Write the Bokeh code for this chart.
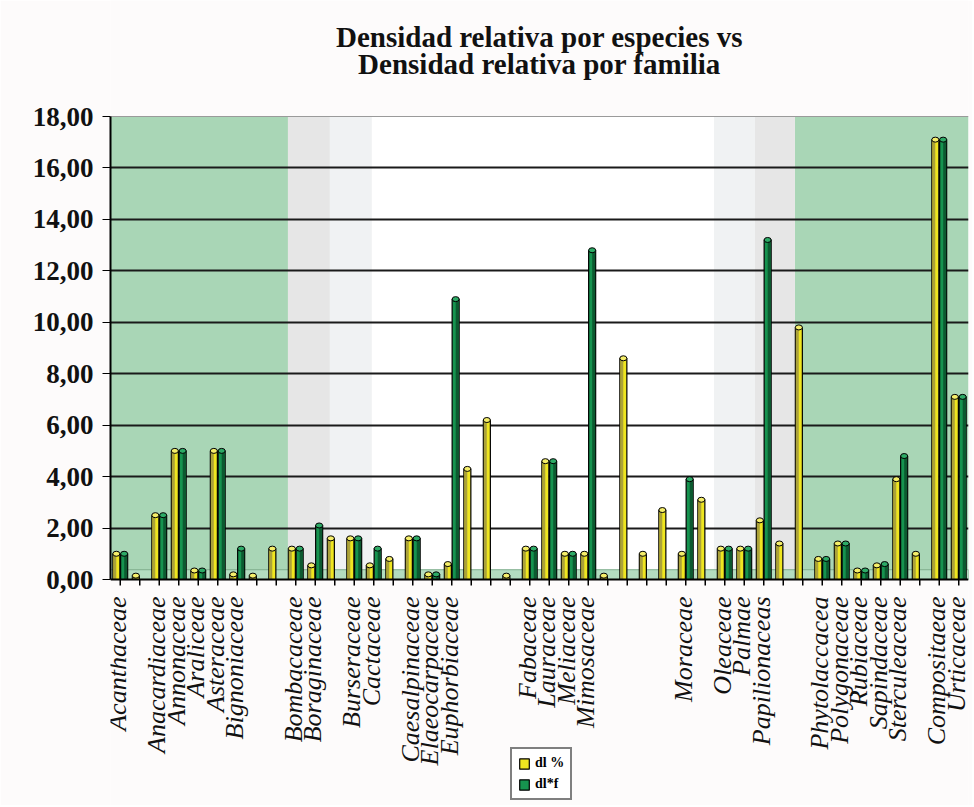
import math
from bokeh.plotting import figure
from bokeh.models import (ColumnDataSource, FixedTicker, Range1d, Legend, LegendItem)
from bokeh.core.properties import value
from bokeh.embed import file_html
from bokeh.resources import INLINE

# ---------------- data ----------------
labels = ["Acanthaceae", "", "Anacardiaceae", "Annonaceae", "Araliceae", "Asteraceae",
          "Bignoniaceae", "", "", "Bombacaceae", "Boraginaceae", "", "Burseraceae",
          "Cactaceae", "", "Caesalpinaceae", "Elaeocarpaceae", "Euphorbiaceae", "", "", "",
          "Fabaceae", "Lauraceae", "Meliaceae", "Mimosaceae", "", "", "", "", "Moraceae", "",
          "Oleaceae", "Palmae", "Papilionaceas", "", "", "Phytolaccacea", "Polygonaceae",
          "Rubiaceae", "Sapindaceae", "Sterculeaceae", "", "Compositaeae", "Urticaceae"]

dl_pct = [1.0, 0.15, 2.5, 5.0, 0.35, 5.0, 0.2, 0.15, 1.2, 1.2, 0.55, 1.6, 1.6, 0.55, 0.8,
          1.6, 0.2, 0.6, 4.3, 6.2, 0.15, 1.2, 4.6, 1.0, 1.0, 0.15, 8.6, 1.0, 2.7, 1.0, 3.1,
          1.2, 1.2, 2.3, 1.4, 9.8, 0.8, 1.4, 0.35, 0.55, 3.9, 1.0, 17.1, 7.1]

dl_f = [1.0, None, 2.5, 5.0, 0.35, 5.0, 1.2, None, None, 1.2, 2.1, None, 1.6, 1.2, None,
        1.6, 0.2, 10.9, None, None, None, 1.2, 4.6, 1.0, 12.8, None, None, None, None, 3.9,
        None, 1.2, 1.2, 13.2, None, None, 0.8, 1.4, 0.35, 0.6, 4.8, None, 17.1, 7.1]

y_ticks = [0, 2, 4, 6, 8, 10, 12, 14, 16, 18]
y_tick_labels = ["0,00", "2,00", "4,00", "6,00", "8,00", "10,00", "12,00", "14,00", "16,00", "18,00"]

series_names = ["dl %", "dl*f"]
title_lines = ["Densidad relativa por especies vs", "Densidad relativa por familia"]

# background bands (category index ranges)
band_green = [(-0.5, 8.6), (34.6, 43.5)]
band_grey = [(8.6, 10.75), (32.55, 34.6)]
band_lightgrey = [(10.75, 12.9), (30.45, 32.55)]

# ---------------- layout constants (pixels) ----------------
n = len(labels)
xs = list(range(n))
off = 0.2
bw = 0.36
y_min, y_max = y_ticks[0], y_ticks[-1]
canvas_h = 805
plot_top_px = 116       # pixel row of the value 18
plot_bottom_px = 579    # pixel row of the value 0
ppu = (plot_bottom_px - plot_top_px) / (y_max - y_min)
view_top = y_max + plot_top_px / ppu
view_bottom = y_min - (canvas_h - plot_bottom_px) / ppu
x_lo, x_hi = -0.5, n - 0.5

p = figure(frame_width=858, frame_height=canvas_h, output_backend="svg", toolbar_location=None,
           x_range=Range1d(x_lo, x_hi), y_range=Range1d(view_bottom, view_top),
           min_border_left=110, min_border_right=4, min_border_top=0,
           min_border_bottom=0, background_fill_color="#fdfbfb",
           border_fill_color="#fdfbfb", outline_line_color=None)
p.xaxis.visible = False

# plot wall and bands
p.quad(left=x_lo, right=x_hi, bottom=y_min, top=y_max, fill_color="white",
       line_color=None, level="image")
for (a, b) in band_green:
    p.quad(left=a, right=b, bottom=y_min, top=y_max, fill_color="#A9D6B6", line_color=None, level="image")
for (a, b) in band_grey:
    p.quad(left=a, right=b, bottom=y_min, top=y_max, fill_color="#E6E6E6", line_color=None, level="image")
for (a, b) in band_lightgrey:
    p.quad(left=a, right=b, bottom=y_min, top=y_max, fill_color="#F0F2F3", line_color=None, level="image")

# top border of the wall
p.segment(x0=[x_lo], y0=[y_max], x1=[x_hi], y1=[y_max], line_color="#9a9a9a", line_width=1)

# floor
p.quad(left=x_lo, right=x_hi, bottom=y_min, top=0.38, fill_color="#B3DCC0",
       line_color="#7FAF8E", line_width=1)

# yellow series
ysrc = ColumnDataSource(dict(x=[i - off for i in xs], top=dl_pct,
                             xs=[i - off - bw * 0.22 for i in xs]))
yr = p.vbar(x="x", top="top", width=bw, bottom=0, source=ysrc,
            fill_color="#EFE620", line_color="black", line_width=1.2)
p.vbar(x="xs", top="top", width=bw * 0.42, bottom=0, source=ysrc,
       fill_color="#ABA23A", line_color=None)
p.ellipse(x="x", y="top", width=bw, height=5, height_units="screen", source=ysrc,
          fill_color="#F5EE6A", line_color="black", line_width=1)

# green series
gi = [i for i, v in enumerate(dl_f) if v is not None]
gsrc = ColumnDataSource(dict(x=[i + off for i in gi], top=[dl_f[i] for i in gi],
                             xs=[i + off + bw * 0.22 for i in gi]))
gr = p.vbar(x="x", top="top", width=bw, bottom=0, source=gsrc,
            fill_color="#16934F", line_color="black", line_width=1.2)
p.vbar(x="xs", top="top", width=bw * 0.42, bottom=0, source=gsrc,
       fill_color="#0C5A30", line_color=None)
p.ellipse(x="x", y="top", width=bw, height=5, height_units="screen", source=gsrc,
          fill_color="#2DAA66", line_color="black", line_width=1)

# grid
p.xgrid.visible = False
p.ygrid.ticker = FixedTicker(ticks=y_ticks[1:-1])
p.ygrid.grid_line_color = "#1a1a1a"
p.ygrid.grid_line_width = 2

# y axis
p.yaxis.bounds = (y_min, y_max)
p.yaxis.ticker = FixedTicker(ticks=y_ticks)
p.yaxis.major_label_overrides = {t: l for t, l in zip(y_ticks, y_tick_labels)}
p.yaxis.major_label_text_font = "Liberation Serif"
p.yaxis.major_label_text_font_style = "bold"
p.yaxis.major_label_text_font_size = "27px"
p.yaxis.major_label_text_color = "#111111"
p.yaxis.axis_line_color = "black"
p.yaxis.axis_line_width = 2
p.yaxis.major_tick_line_color = "black"
p.yaxis.major_tick_out = 8
p.yaxis.major_tick_in = 0
p.yaxis.minor_tick_line_color = None
p.yaxis.major_label_standoff = 9

# category axis (drawn in data space so that the legend can share its band)
tick_len = 6 / ppu
p.segment(x0=[x_lo], y0=[y_min], x1=[x_hi], y1=[y_min], line_color="black", line_width=2)
p.segment(x0=xs, y0=[y_min] * n, x1=xs, y1=[y_min - tick_len] * n,
          line_color="black", line_width=1.5)
li = [i for i, l in enumerate(labels) if l]
p.text(x=[i - 0.12 for i in li], y=[y_min] * len(li), text=[labels[i] for i in li],
       angle=math.pi / 2, text_align="right", text_baseline="middle", y_offset=17,
       text_font=value("Liberation Serif"), text_font_style="italic",
       text_font_size="26px", text_color="#111111")

# title (two centred lines)
p.text(x=[(x_lo + x_hi) / 2] * 2, y=[y_max] * 2, text=title_lines,
       y_offset=[-80, -53], text_align="center", text_baseline="middle",
       text_font=value("Liberation Serif"), text_font_style="bold",
       text_font_size="29px", text_color="#111111")

# legend (inside the lower band, between the labels)
legend = Legend(items=[LegendItem(label=series_names[0], renderers=[yr]),
                       LegendItem(label=series_names[1], renderers=[gr])],
                orientation="vertical", location=(400, 5))
legend.label_text_font = "Liberation Serif"
legend.label_text_font_style = "bold"
legend.label_text_font_size = "14px"
legend.label_text_color = "black"
legend.glyph_width = 12
legend.glyph_height = 13
legend.label_height = 14
legend.spacing = 5
legend.padding = 6
legend.margin = 0
legend.border_line_color = "black"
legend.border_line_width = 2
legend.background_fill_color = "white"
p.add_layout(legend)

open("out.html", "w").write(file_html(p, INLINE))
